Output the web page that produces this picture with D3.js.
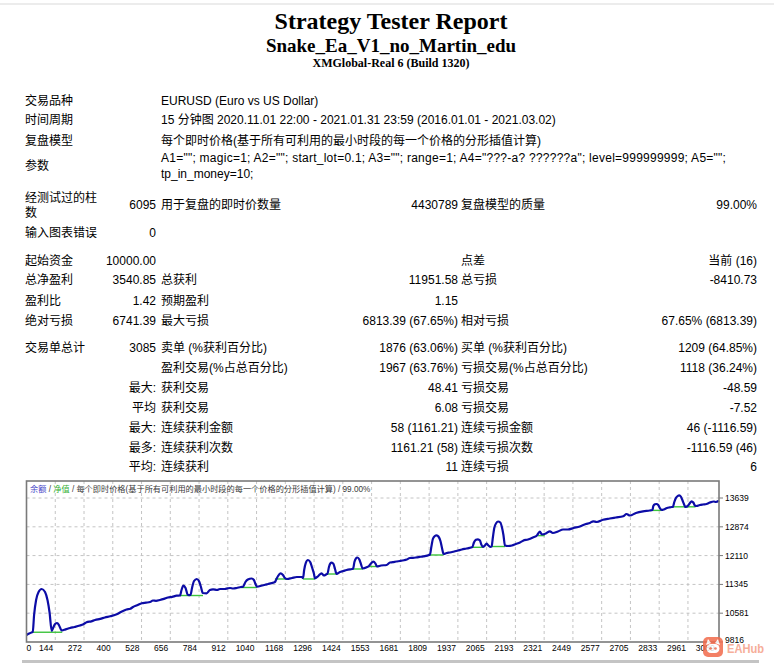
<!DOCTYPE html>
<html><head><meta charset="utf-8">
<script src="https://cdn.jsdelivr.net/npm/d3@7/dist/d3.min.js"></script>
<style>body{margin:0;background:#fff;overflow:hidden} svg{display:block}</style>
</head><body><svg id="c" width="774" height="663"></svg>
<script>
// ---------------- data ----------------
const titleText = "Strategy Tester Report";
const eaName = "Snake_Ea_V1_no_Martin_edu";
const serverText = "XMGlobal-Real 6 (Build 1320)";

const infoLabels = ["交易品种", "时间周期", "复盘模型"];
const infoValues = [
  "EURUSD (Euro vs US Dollar)",
  "15 分钟图 2020.11.01 22:00 - 2021.01.31 23:59 (2016.01.01 - 2021.03.02)",
  "每个即时价格(基于所有可利用的最小时段的每一个价格的分形插值计算)"
];
const paramLabel = "参数";
const paramLines = [
  'A1=""; magic=1; A2=""; start_lot=0.1; A3=""; range=1; A4="???-a? ??????a"; level=999999999; A5="";',
  'tp_in_money=10;'
];
// [label, value, label2, value2, label3, value3]
const statsRows = [
  ["经测试过的柱|数", "6095", "用于复盘的即时价数量", "4430789", "复盘模型的质量", "99.00%"],
  ["输入图表错误", "0", "", "", "", ""],
  ["起始资金", "10000.00", "", "", "点差", "当前 (16)"],
  ["总净盈利", "3540.85", "总获利", "11951.58", "总亏损", "-8410.73"],
  ["盈利比", "1.42", "预期盈利", "1.15", "", ""],
  ["绝对亏损", "6741.39", "最大亏损", "6813.39 (67.65%)", "相对亏损", "67.65% (6813.39)"],
  ["交易单总计", "3085", "卖单 (%获利百分比)", "1876 (63.06%)", "买单 (%获利百分比)", "1209 (64.85%)"],
  ["", "", "盈利交易(%占总百分比)", "1967 (63.76%)", "亏损交易(%占总百分比)", "1118 (36.24%)"],
  ["", "最大:", "获利交易", "48.41", "亏损交易", "-48.59"],
  ["", "平均", "获利交易", "6.08", "亏损交易", "-7.52"],
  ["", "最大:", "连续获利金额", "58 (1161.21)", "连续亏损金额", "46 (-1116.59)"],
  ["", "最多:", "连续获利次数", "1161.21 (58)", "连续亏损次数", "-1116.59 (46)"],
  ["", "平均:", "连续获利", "11", "连续亏损", "6"]
];

const legendBalance = "余额";
const legendEquity = "净值";
const legendRest = " / 每个即时价格(基于所有可利用的最小时段的每一个价格的分形插值计算) / 99.00%";

const yTicks = [9816, 10581, 11345, 12110, 12874, 13639];
const xTickLabels = ["0","144","272","400","528","656","784","912","1040","1168","1296","1424","1553",
  "1681","1809","1937","2065","2193","2321","2449","2577","2705","2833","2961","3089"];

// balance curve: [trade #, balance]
const balanceCurve = [
  [0,10000],[12,10040],[25,10075],
  [28,10082],[34,10533],[43,10931],[54,11143],[68,11223],[83,11143],[94,10931],[103,10612],[113,10108],
  [119,10188],[128,10294],[137,10320],[145,10267],[154,10148],
  [158,10121],[175,10150],[195,10188],[215,10215],[239,10254],[255,10290],[269,10339],[290,10365],[307,10400],
  [330,10430],[351,10466],[375,10500],[404,10551],[427,10626],[448,10679],[465,10700],[477,10745],[495,10790],
  [516,10843],[535,10860],[553,10878],[566,10918],[580,10910],[597,10931],[615,10960],[633,10997],[652,11015],
  [672,11045],[687,11050],
  [694,11197],[702,11311],[712,11250],[721,11077],[727,11060],
  [734,11064],[741,11250],[750,11435],[762,11489],[772,11435],[781,11276],[789,11117],
  [806,11109],[821,11197],[835,11215],[853,11197],[866,11223],[888,11223],[900,11240],[911,11250],[925,11236],
  [941,11250],[960,11276],
  [969,11280],[980,11409],[991,11475],[1008,11502],[1018,11462],[1025,11356],[1032,11284],
  [1054,11316],[1068,11335],[1081,11356],[1097,11380],[1112,11409],
  [1117,11462],[1126,11568],[1137,11640],[1148,11595],[1157,11515],[1166,11489],
  [1188,11515],[1210,11542],[1233,11542],
  [1238,11515],[1243,11727],[1250,11913],[1260,11993],[1270,11940],[1279,11781],[1287,11621],[1291,11507],
  [1306,11568],[1321,11640],[1331,11581],[1345,11621],
  [1347,11625],[1354,11807],[1360,11900],[1366,11921],[1374,11887],[1381,11754],[1388,11621],
  [1403,11674],[1418,11700],[1433,11727],[1457,11754],
  [1462,11760],[1468,11940],[1475,12033],[1481,12059],[1490,12006],[1497,11887],[1505,11767],
  [1523,11799],[1533,11834],
  [1542,11900],[1552,11948],[1562,11900],[1569,11820],
  [1587,11847],[1612,11860],[1627,11927],[1640,11935],[1654,11953],[1672,11966],[1690,11985],[1702,12006],
  [1716,12046],[1730,12050],[1743,12059],[1760,12075],[1776,12091],[1802,12126],
  [1806,12139],[1813,12365],[1819,12551],[1828,12630],[1836,12649],[1844,12617],[1853,12498],[1860,12312],[1867,12152],
  [1881,12179],[1895,12192],[1911,12213],[1932,12245],[1949,12272],[1970,12298],[1989,12325],
  [1996,12335],[2003,12458],[2012,12529],[2021,12543],[2030,12511],[2036,12405],[2043,12338],
  [2052,12378],[2059,12426],[2068,12378],[2077,12338],
  [2082,12351],[2088,12604],[2094,12843],[2103,12975],[2111,13015],[2121,12989],[2128,12869],[2135,12657],[2142,12378],
  [2155,12365],[2173,12378],[2191,12418],[2209,12458],[2223,12506],[2245,12537],[2267,12590],[2285,12644],
  [2298,12750],[2307,12670],[2325,12697],[2343,12755],[2356,12710],[2379,12750],[2402,12803],[2424,12803],
  [2449,12843],[2477,12883],[2504,12949],[2522,12975],[2537,13021],[2553,13002],[2581,13063],[2611,13095],
  [2638,13121],[2671,13153],[2686,13214],[2701,13174],[2728,13241],[2760,13286],[2790,13307],
  [2802,13320],[2806,13427],[2813,13472],[2820,13480],[2828,13453],[2835,13374],[2843,13320],
  [2853,13334],[2867,13374],[2880,13390],[2889,13400],
  [2893,13400],[2900,13533],[2907,13639],[2916,13697],[2922,13711],[2929,13679],[2936,13586],[2943,13480],[2950,13400],
  [2962,13440],
  [2970,13506],[2977,13551],[2985,13520],[2992,13440],
  [2999,13427],[3014,13453],[3028,13467],[3044,13480],[3059,13519],[3077,13546],[3086,13533],[3100,13567]
];

// equity flats under the balance bumps: [start trade, end trade, equity]
const equityFlats = [
  [25,160,10075],[687,790,11050],[960,1032,11263],[1112,1166,11489],[1237,1291,11489],
  [1345,1390,11621],[1462,1506,11754],[1533,1572,11820],[1806,1867,12126],[1994,2045,12330],
  [2082,2142,12351],[2290,2320,12640],[2802,2843,13310],[2893,2995,13405]
];

// ---------------- drawing ----------------
const svg = d3.select("#c");
const SANS = "'Liberation Sans','Noto Sans CJK SC',sans-serif";
const SERIF = "'Liberation Serif','Times New Roman',serif";

svg.append("rect").attr("x",0).attr("y",3).attr("width",774).attr("height",2).attr("fill","#ececec");

svg.append("text").attr("x",391).attr("y",29).attr("text-anchor","middle")
  .attr("font-family",SERIF).attr("font-weight","bold").attr("font-size",24).text(titleText);
svg.append("text").attr("x",391).attr("y",52).attr("text-anchor","middle")
  .attr("font-family",SERIF).attr("font-weight","bold").attr("font-size",19).text(eaName);
svg.append("text").attr("x",391).attr("y",67).attr("text-anchor","middle")
  .attr("font-family",SERIF).attr("font-weight","bold").attr("font-size",12).text(serverText);

const T = svg.append("g").attr("font-family",SANS).attr("font-size",12).attr("fill","#000");
function txt(x, y, s, anchor) {
  if (!s) return;
  return T.append("text").attr("x",x).attr("y",y).attr("dominant-baseline","central")
    .attr("text-anchor",anchor || "start").text(s);
}
const colL = 25, colV1 = 156, colL2 = 161, colV2 = 458, colL3 = 461, colV3 = 757;
const infoY = [101, 120, 141];
infoLabels.forEach((l,i) => { txt(colL, infoY[i], l); txt(colL2, infoY[i], infoValues[i]); });
txt(colL, 166, paramLabel);
paramLines.forEach((l,i) => {
  const t = txt(colL2, 158 + i*16, l);
  if (i === 0) t.attr("letter-spacing", 0.25);
});

const statsY = [205, 233, 261, 280, 301, 321, 348, 368, 388, 408, 428, 448, 467];
statsRows.forEach((r,i) => {
  const yy = statsY[i];
  if (r[0].includes("|")) {
    const parts = r[0].split("|");
    txt(colL, yy-7, parts[0]); txt(colL, yy+8, parts[1]);
  } else txt(colL, yy, r[0]);
  txt(colV1, yy, r[1], "end");
  txt(colL2, yy, r[2]);
  txt(colV2, yy, r[3], "end");
  txt(colL3, yy, r[4]);
  txt(colV3, yy, r[5], "end");
});

// ---------- chart ----------
const fx0 = 26.5, fx1 = 719, fy0 = 481, fy1 = 642;
const x = d3.scaleLinear().domain([0, 3100]).range([fx0, fx1]);
const y = d3.scaleLinear().domain([yTicks[0], yTicks[yTicks.length-1]]).range([fy1, 498]);
const gx = d3.scaleLinear().domain([0, xTickLabels.length-1]).range([fx0, 716.7]);

const C = svg.append("g");
C.append("rect").attr("x",fx0).attr("y",fy0).attr("width",fx1-fx0).attr("height",fy1-fy0).attr("fill","#fff");

// grid
C.selectAll(".hg").data(yTicks.slice(1)).enter().append("line")
  .attr("x1",fx0).attr("x2",fx1).attr("y1",d=>y(d)).attr("y2",d=>y(d))
  .attr("stroke","#c4c4c4").attr("stroke-dasharray","3,3").attr("stroke-width",1);
C.selectAll(".vg").data(d3.range(1, xTickLabels.length-1)).enter().append("line")
  .attr("x1",d=>gx(d)).attr("x2",d=>gx(d)).attr("y1",fy0).attr("y2",fy1)
  .attr("stroke","#c4c4c4").attr("stroke-dasharray","3,3").attr("stroke-width",1);

// equity flats
C.selectAll(".eq").data(equityFlats).enter().append("line")
  .attr("x1",d=>x(d[0])).attr("x2",d=>x(d[1])).attr("y1",d=>y(d[2])).attr("y2",d=>y(d[2]))
  .attr("stroke","#3cc43c").attr("stroke-width",1.4);

// balance line
const line = d3.line().x(d=>x(d[0])).y(d=>y(d[1])).curve(d3.curveMonotoneX);
C.append("path").datum(balanceCurve).attr("d",line).attr("fill","none")
  .attr("stroke","#0c0ca6").attr("stroke-width",2.2).attr("stroke-linejoin","round");

// frame
C.append("rect").attr("x",fx0).attr("y",fy0).attr("width",fx1-fx0).attr("height",fy1-fy0)
  .attr("fill","none").attr("stroke","#7a7a7a").attr("stroke-width",1.6);

// y axis ticks/labels on right
const A = svg.append("g").attr("font-family",SANS).attr("font-size",8.5).attr("fill","#000");
yTicks.forEach(v => {
  A.append("line").attr("x1",fx1).attr("x2",fx1+4).attr("y1",y(v)).attr("y2",y(v)).attr("stroke","#7a7a7a");
  A.append("text").attr("x",725).attr("y",y(v) - (v === yTicks[0] ? 2 : 0))
    .attr("dominant-baseline","central").text(v);
});
// x labels
xTickLabels.forEach((s,i) => {
  if (i === 0) A.append("text").attr("x",fx0).attr("y",648).attr("dominant-baseline","central").text(s);
  else A.append("text").attr("x",gx(i)-2).attr("y",648).attr("dominant-baseline","central")
        .attr("text-anchor","end").text(s);
});

// legend in chart
const lg = svg.append("text").attr("x",30).attr("y",488.5).attr("dominant-baseline","central")
  .attr("font-family",SANS).attr("font-size",8.2).attr("fill","#3a3a3a");
lg.append("tspan").attr("fill","#4646c8").text(legendBalance);
lg.append("tspan").text(" / ");
lg.append("tspan").attr("fill","#36b036").text(legendEquity);
lg.append("tspan").text(legendRest);

// bottom gray strip
svg.append("rect").attr("x",22).attr("y",660).attr("width",737).attr("height",3).attr("fill","#c4c4c4");

// watermark
const W = svg.append("g").attr("opacity",0.85);
W.append("rect").attr("x",703).attr("y",637).attr("width",20).attr("height",20).attr("rx",5).attr("fill","#f26a4b");
W.append("rect").attr("x",706.5).attr("y",644).attr("width",13).attr("height",9).attr("rx",4.5).attr("fill","#fff");
W.append("path").attr("d","M706 645 L708 639 L711 643 Z M720 645 L718 639 L715 643 Z").attr("fill","#fff");
W.append("circle").attr("cx",710.5).attr("cy",648.5).attr("r",1.3).attr("fill","#f26a4b");
W.append("circle").attr("cx",715.5).attr("cy",648.5).attr("r",1.3).attr("fill","#f26a4b");
W.append("text").attr("x",727).attr("y",649).attr("dominant-baseline","central")
  .attr("font-family",SANS).attr("font-weight","bold").attr("font-size",12)
  .attr("textLength",37).attr("lengthAdjust","spacingAndGlyphs").attr("fill","#f5a088").text("EAHub");
</script></body></html>
